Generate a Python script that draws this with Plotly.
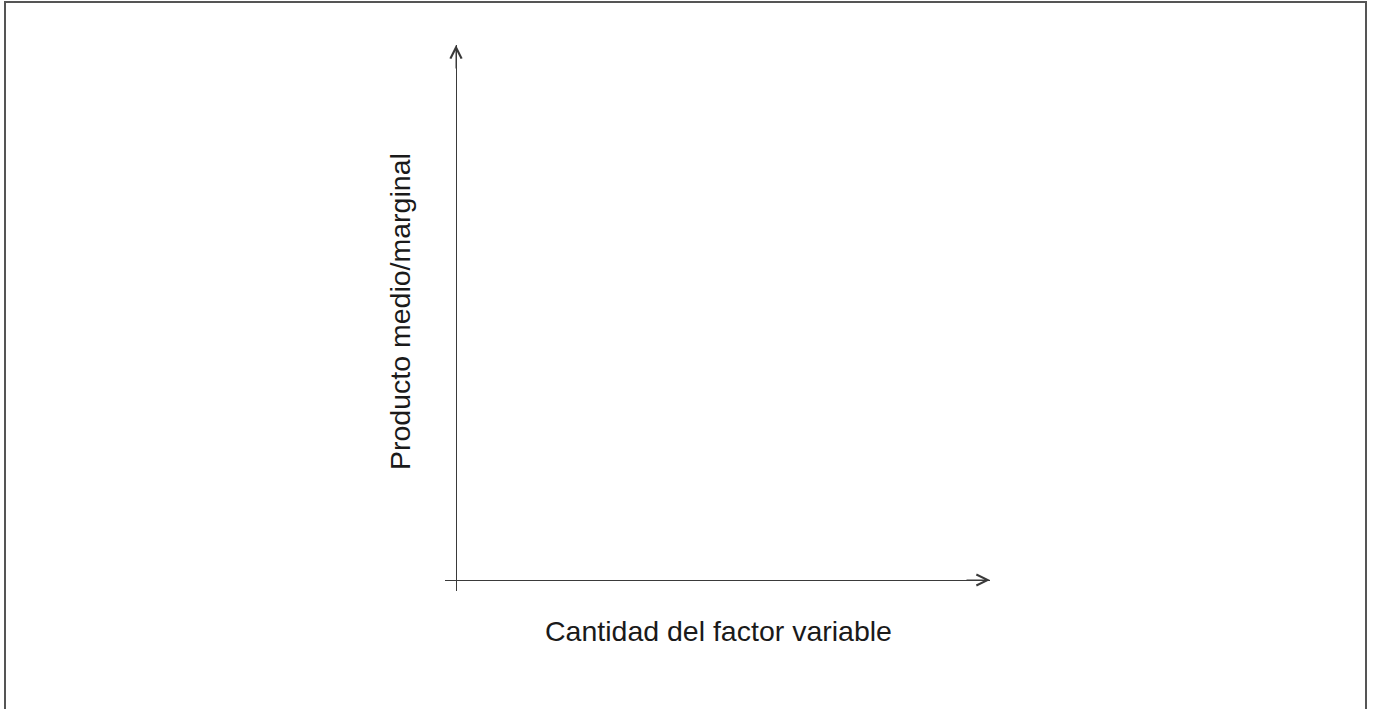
import plotly.graph_objects as go

# Chart content (an empty diagram with only the two arrowed axes)
x_title = "Cantidad del factor variable"
y_title = "Producto medio/marginal"
x_range = [-11, 534]
y_range = [-11, 535]
curve_x = []
curve_y = []

W, H = 1373, 709
L, R, T, B = 445, 383, 45, 118
pw, ph = W - L - R, H - T - B

def px_to_paper_x(px):
    return (px - L) / pw

def px_to_paper_y(py):
    return (H - B - py) / ph

fig = go.Figure()
fig.add_trace(go.Scatter(x=curve_x, y=curve_y, mode="lines", line=dict(color="#222"), showlegend=False))

axis_color = "#3a3a3a"
fig.update_xaxes(range=x_range, showgrid=False, showticklabels=False, ticks="",
                 zeroline=True, zerolinecolor=axis_color, zerolinewidth=1.2, showline=False)
fig.update_yaxes(range=y_range, showgrid=False, showticklabels=False, ticks="",
                 zeroline=True, zerolinecolor=axis_color, zerolinewidth=1.2, showline=False)

# arrowheads at the ends of the axes
fig.add_annotation(x=0, y=y_range[1], xref="x", yref="y", ax=0, ay=25, text="",
                   showarrow=True, arrowhead=5, arrowsize=2.2, arrowwidth=1,
                   arrowcolor=axis_color, standoff=0)
fig.add_annotation(x=x_range[1], y=0, xref="x", yref="y", ax=-25, ay=0, text="",
                   showarrow=True, arrowhead=5, arrowsize=2.2, arrowwidth=1,
                   arrowcolor=axis_color, standoff=0)

font = dict(family="Liberation Sans, Arial, sans-serif", size=28.5, color="#1a1a1a")
fig.add_annotation(text=x_title, xref="paper", yref="paper",
                   x=px_to_paper_x(718), y=px_to_paper_y(631),
                   xanchor="center", yanchor="middle", showarrow=False, font=font)
fig.add_annotation(text=y_title, xref="paper", yref="paper", textangle=-90,
                   x=px_to_paper_x(399.5), y=px_to_paper_y(311.5),
                   xanchor="center", yanchor="middle", showarrow=False, font=font)

# outer frame
fig.add_shape(type="rect", xref="paper", yref="paper",
              x0=px_to_paper_x(5), x1=px_to_paper_x(1366),
              y0=px_to_paper_y(715), y1=px_to_paper_y(2),
              line=dict(color="#555555", width=2), fillcolor="rgba(0,0,0,0)", layer="below")

fig.update_layout(width=W, height=H, margin=dict(l=L, r=R, t=T, b=B),
                  paper_bgcolor="white", plot_bgcolor="white")

fig.write_html("out.html", config={"displayModeBar": False},
               post_script="document.body.style.margin='0';document.body.style.overflow='hidden';")
